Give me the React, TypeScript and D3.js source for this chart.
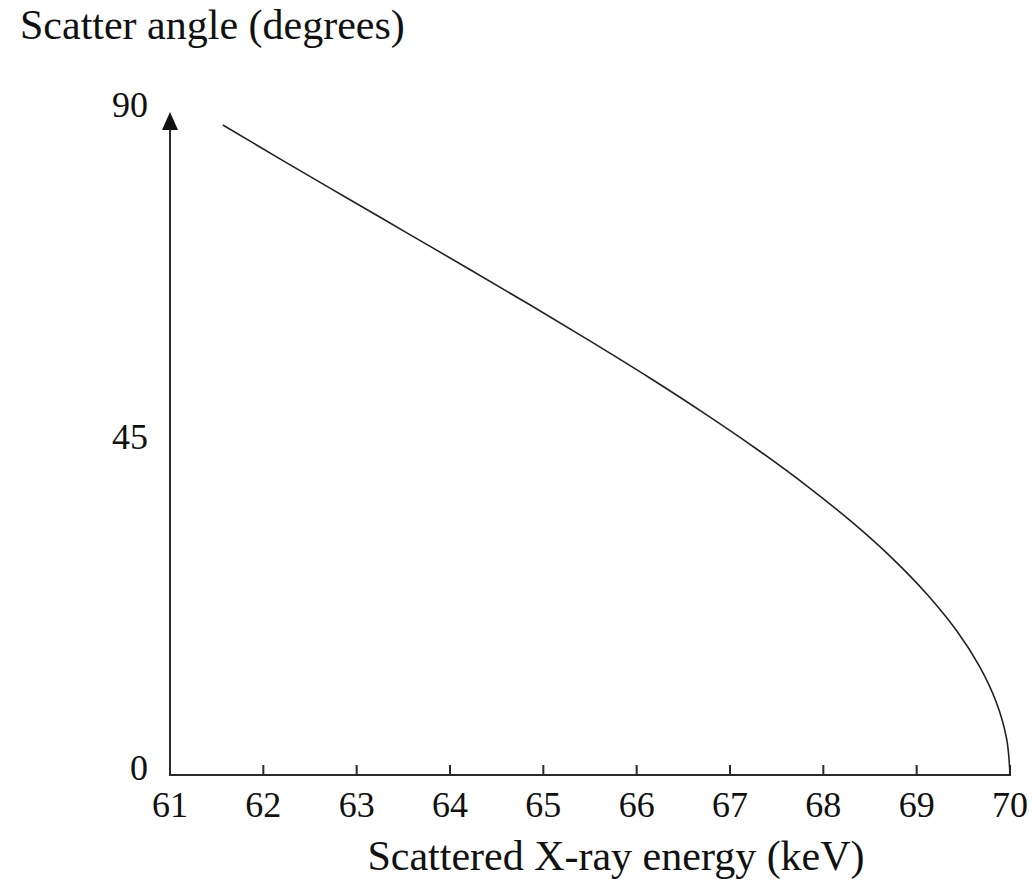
import React from "react";
import * as d3 from "d3";

const xTicks = [61, 62, 63, 64, 65, 66, 67, 68, 69, 70];
const yTicks = [0, 45, 90];
// curve points: scatter angle (deg) and scattered energy (keV)
const angles = [0, 5, 10, 15, 20, 25, 30, 35, 40, 45, 50, 55, 60, 65, 70, 75, 80, 85, 90];
const energies = [70.0, 69.964, 69.855, 69.675, 69.427, 69.113, 68.739, 68.308, 67.826, 67.3, 66.734, 66.137, 65.512, 64.869, 64.212, 63.547, 62.882, 62.219, 61.566];

const W = 1032;
const H = 886;

export default function App() {
  const x = d3.scaleLinear().domain([61, 70]).range([170, 1010]);
  const y = d3.scaleLinear().domain([0, 90]).range([775, 125]);
  const yLab = d3.scaleLinear().domain([0, 90]).range([780, 117]);
  const pts: [number, number][] = angles.map((a, i) => [energies[i], a]);
  const line = d3
    .line<[number, number]>()
    .x((d) => x(d[0]))
    .y((d) => y(d[1]))
    .curve(d3.curveMonotoneY);
  const font = "'Liberation Serif', 'Times New Roman', serif";
  const axisColor = "#2a2a2a";
  return (
    <svg width={W} height={H} style={{ position: "absolute", left: 0, top: 0 }}>
      <rect width={W} height={H} fill="#fff" />
      <text x={20} y={39} fontFamily={font} fontSize={42} fill="#111">
        Scatter angle (degrees)
      </text>
      {/* y axis */}
      <line x1={x(61)} x2={x(61)} y1={y(0)} y2={128} stroke={axisColor} strokeWidth={2} />
      <path d={`M${x(61)},112 L${x(61) - 8},130 L${x(61) + 8},130 Z`} fill="#111" />
      {/* x axis */}
      <line x1={x(61) - 1} x2={x(70) + 1} y1={y(0)} y2={y(0)} stroke={axisColor} strokeWidth={2} />
      {xTicks.map((t) => (
        <g key={t}>
          {t !== 61 && (
            <line x1={x(t)} x2={x(t)} y1={y(0)} y2={y(0) - 10} stroke={axisColor} strokeWidth={2} />
          )}
          <text x={x(t)} y={817} textAnchor="middle" fontFamily={font} fontSize={36} fill="#111">
            {t}
          </text>
        </g>
      ))}
      {yTicks.map((t) => (
        <text key={t} x={148} y={yLab(t)} textAnchor="end" fontFamily={font} fontSize={36} fill="#111">
          {t}
        </text>
      ))}
      <path d={line(pts) || ""} fill="none" stroke="#222" strokeWidth={1.6} />
      <text x={616} y={870} textAnchor="middle" fontFamily={font} fontSize={42} fill="#111">
        Scattered X-ray energy (keV)
      </text>
    </svg>
  );
}
